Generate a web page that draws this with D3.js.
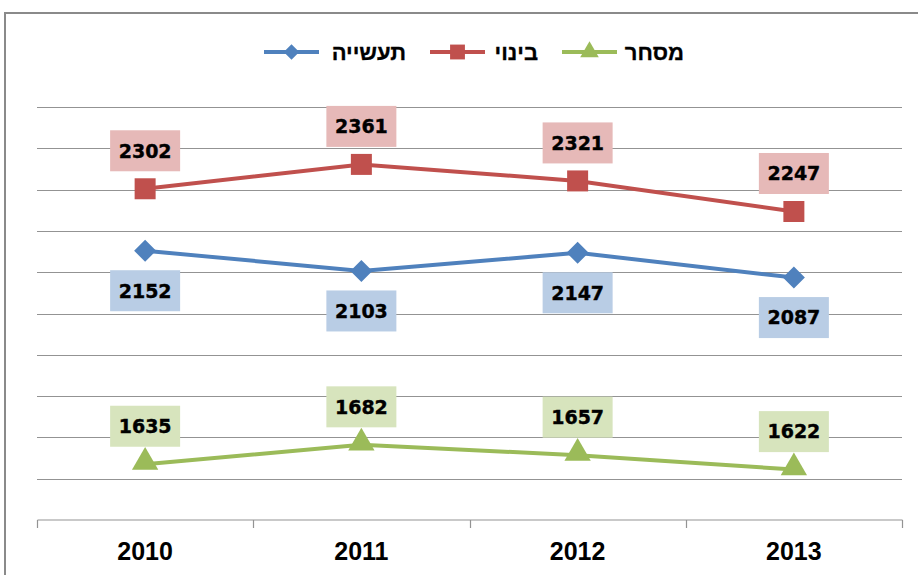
<!DOCTYPE html>
<html lang="he">
<head>
<meta charset="utf-8">
<title>chart</title>
<script src="https://cdn.jsdelivr.net/npm/d3@7/dist/d3.min.js"></script>
<style>
  body { margin: 0; background: #fff; }
  svg { display: block; }
</style>
</head>
<body>
<svg width="918" height="575"></svg>
<script>
// data
var years = ["2010", "2011", "2012", "2013"];
var industry = [2152, 2103, 2147, 2087];   // תעשייה
var building = [2302, 2361, 2321, 2247];   // בינוי
var commerce = [1635, 1682, 1657, 1622];   // מסחר
var gridTicks = [1600, 1700, 1800, 1900, 2000, 2100, 2200, 2300, 2400, 2500];

// square diamond, like the Excel marker
var squareDiamond = {
  draw: function (ctx, size) {
    var r = Math.sqrt(size / 2);
    ctx.moveTo(0, -r);
    ctx.lineTo(r, 0);
    ctx.lineTo(0, r);
    ctx.lineTo(-r, 0);
    ctx.closePath();
  }
};

var series = [
  { name: "תעשייה", values: industry, color: "#4F81BD", label: "#B9CDE5", marker: squareDiamond, size: 242, below: true },
  { name: "בינוי", values: building, color: "#C0504D", label: "#E6B9B8", marker: d3.symbolSquare, size: 441, below: false },
  { name: "מסחר", values: commerce, color: "#9BBB59", label: "#D7E4BD", marker: d3.symbolTriangle, size: 300, below: false }
];

var svg = d3.select("svg");

// outer chart frame
svg.append("rect")
  .attr("x", 5).attr("y", 13)
  .attr("width", 930).attr("height", 580)
  .attr("fill", "none")
  .attr("stroke", "#8a8a8a")
  .attr("stroke-width", 2);

var x = d3.scaleBand().domain(years).range([37, 902]);
var y = d3.scaleLinear().domain([1500, 2500]).range([520, 107]);

// grid lines
svg.append("g")
  .selectAll("line")
  .data(gridTicks)
  .enter()
  .append("line")
    .attr("x1", 37).attr("x2", 902)
    .attr("y1", function (d) { return Math.round(y(d)) + 0.5; })
    .attr("y2", function (d) { return Math.round(y(d)) + 0.5; })
    .attr("stroke", "#939393")
    .attr("stroke-width", 1.2);

// x axis
var axeX = d3.axisBottom(x).tickSize(0).tickPadding(22);
var gx = svg.append("g")
  .attr("transform", "translate(0,520)")
  .call(axeX);
gx.select(".domain").attr("stroke", "#939393").attr("stroke-width", 1.2).attr("d", "M37.5,0H902.5");
gx.selectAll("text")
  .style("font-family", "'Liberation Sans', Arial, sans-serif")
  .style("font-size", "25px")
  .style("font-weight", "bold")
  .attr("fill", "#000");

// separator ticks between categories
var bounds = years.map(function (d) { return x(d); }).concat([x.range()[1]]);
gx.selectAll("line.sep")
  .data(bounds)
  .enter()
  .append("line")
    .classed("sep", true)
    .attr("x1", function (d) { return Math.round(d) + 0.5; })
    .attr("x2", function (d) { return Math.round(d) + 0.5; })
    .attr("y1", 0).attr("y2", 8)
    .attr("stroke", "#939393")
    .attr("stroke-width", 1.2);

var cx = function (d, i) { return x(years[i]) + x.bandwidth() / 2; };

var line = d3.line()
  .x(cx)
  .y(function (d) { return y(d); });

series.forEach(function (s) {
  var g = svg.append("g");

  g.append("path")
    .datum(s.values)
    .attr("d", line)
    .attr("fill", "none")
    .attr("stroke", s.color)
    .attr("stroke-width", 4);

  g.selectAll("path.mk")
    .data(s.values)
    .enter()
    .append("path")
      .classed("mk", true)
      .attr("d", d3.symbol().type(s.marker).size(s.size))
      .attr("transform", function (d, i) {
        var dy = s.marker === d3.symbolTriangle ? -2 : 0;
        return "translate(" + cx(d, i) + "," + (y(d) + dy) + ")";
      })
      .attr("fill", s.color);

  // value labels
  var lab = g.selectAll("g.lab")
    .data(s.values)
    .enter()
    .append("g")
      .classed("lab", true)
      .attr("transform", function (d, i) {
        var off = s.below ? 40 : -38;
        return "translate(" + cx(d, i) + "," + (y(d) + off) + ")";
      });

  lab.append("rect")
    .attr("x", -35).attr("y", -20.5)
    .attr("width", 70).attr("height", 41)
    .attr("fill", s.label);

  lab.append("text")
    .attr("text-anchor", "middle")
    .attr("dy", "0.36em")
    .style("font-family", "'DejaVu Sans', Verdana, sans-serif")
    .style("font-size", "19px")
    .style("font-weight", "bold")
    .attr("fill", "#000")
    .attr("stroke", "#000")
    .attr("stroke-width", 0.4)
    .text(function (d) { return d; });
});

// legend
var legendPos = [
  { lineX: 264, textX: 406 },
  { lineX: 430, textX: 538 },
  { lineX: 562, textX: 684 }
];
var leg = svg.append("g")
  .selectAll("g")
  .data(series)
  .enter()
  .append("g")
    .attr("transform", "translate(0,52)");

leg.append("line")
  .attr("x1", function (d, i) { return legendPos[i].lineX; })
  .attr("x2", function (d, i) { return legendPos[i].lineX + 55; })
  .attr("y1", 0).attr("y2", 0)
  .attr("stroke", function (d) { return d.color; })
  .attr("stroke-width", 4);

leg.append("path")
  .attr("d", function (d) { return d3.symbol().type(d.marker).size(d.size * 0.5)(); })
  .attr("transform", function (d, i) { return "translate(" + (legendPos[i].lineX + 27.5) + ",0)"; })
  .attr("fill", function (d) { return d.color; });

leg.append("text")
  .attr("x", function (d, i) { return legendPos[i].textX; })
  .attr("dy", "0.36em")
  .attr("text-anchor", "end")
  .style("font-family", "'Liberation Sans', Arial, sans-serif")
  .style("font-size", "22px")
  .style("font-weight", "bold")
  .attr("fill", "#000")
  .attr("stroke", "#000")
  .attr("stroke-width", 0.3)
  .text(function (d) { return d.name; });
</script>
</body>
</html>
